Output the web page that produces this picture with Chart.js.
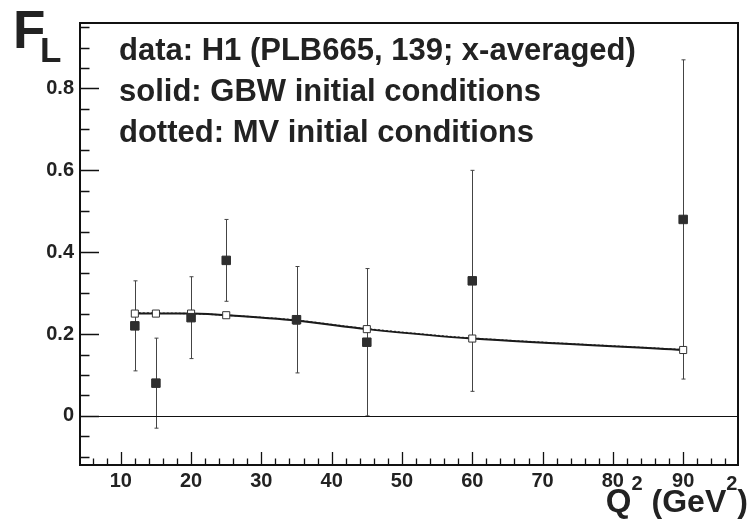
<!DOCTYPE html>
<html>
<head>
<meta charset="utf-8">
<script src="https://cdn.jsdelivr.net/npm/chart.js@4.4.1/dist/chart.umd.min.js"></script>
<style>
html,body{margin:0;padding:0;background:#fff;}
</style>
</head>
<body>
<canvas id="myChart" width="752" height="529"></canvas>
<script>
// H1 F_L data, x-averaged
var q2=[12,15,20,25,35,45,60,90];
var flData=[0.22,0.08,0.24,0.38,0.235,0.18,0.33,0.48];
var flErr=[0.11,0.11,0.10,0.10,0.13,0.18,0.27,0.39];
// model curves
var gbw=[0.250,0.250,0.250,0.246,0.233,0.212,0.189,0.161];
var mv=[0.252,0.251,0.250,0.246,0.234,0.213,0.190,0.162];
var xTicks=[10,20,30,40,50,60,70,80,90];
var yTicks=[0,0.2,0.4,0.6,0.8];
var textLines=['data: H1 (PLB665, 139; x-averaged)','solid: GBW initial conditions','dotted: MV initial conditions'];

var ink='#222';
var fnt='"Liberation Sans", Arial, Helvetica, sans-serif';

function pts(ys){
	var out=[];
	for(var i=0;i<q2.length;i++){ out.push({x:q2[i],y:ys[i]}); }
	return out;
}

var errorBars={
	id:'errorBars',
	beforeDatasetsDraw:function(chart){
		var ctx=chart.ctx, xs=chart.scales.x, ys=chart.scales.y;
		ctx.save();
		ctx.strokeStyle='#444';
		ctx.lineWidth=1;
		for(var i=0;i<q2.length;i++){
			var px=Math.round(xs.getPixelForValue(q2[i]))+0.5;
			var lo=Math.max(flData[i]-flErr[i],ys.min);
			var y1=ys.getPixelForValue(flData[i]+flErr[i]);
			var y2=ys.getPixelForValue(lo);
			ctx.beginPath();
			ctx.moveTo(px,y1);ctx.lineTo(px,y2);
			ctx.moveTo(px-2,y1);ctx.lineTo(px+2,y1);
			ctx.moveTo(px-2,y2);ctx.lineTo(px+2,y2);
			ctx.stroke();
		}
		ctx.restore();
	}
};

var frame={
	id:'frame',
	beforeDatasetsDraw:function(chart){
		var ctx=chart.ctx, a=chart.chartArea, ys=chart.scales.y;
		var y0=Math.round(ys.getPixelForValue(0))+0.5;
		ctx.save();
		ctx.strokeStyle='#111';
		ctx.lineWidth=1;
		ctx.beginPath();ctx.moveTo(a.left,y0);ctx.lineTo(a.right,y0);ctx.stroke();
		ctx.restore();
	},
	afterDraw:function(chart){
		var ctx=chart.ctx, a=chart.chartArea, xs=chart.scales.x, ys=chart.scales.y;
		ctx.save();
		ctx.strokeStyle='#111';
		ctx.lineWidth=2;
		ctx.strokeRect(a.left,a.top,a.right-a.left,a.bottom-a.top);
		ctx.lineWidth=1.3;
		ctx.beginPath();
		// x ticks, inside, bottom only
		for(var v=6;v<xs.max;v+=2){
			var px=Math.round(xs.getPixelForValue(v))+0.5;
			var len=(v%10===0)?13:6.5;
			ctx.moveTo(px,a.bottom);ctx.lineTo(px,a.bottom-len);
		}
		// y ticks, inside, left only
		for(var k=-2;k<=19;k++){
			var val=k*0.05;
			if(val<ys.min||val>ys.max) continue;
			var py=Math.round(ys.getPixelForValue(val))+0.5;
			var l2=(k%4===0)?19:9.5;
			ctx.moveTo(a.left,py);ctx.lineTo(a.left+l2,py);
		}
		ctx.stroke();

		ctx.fillStyle=ink;
		ctx.textBaseline='alphabetic';
		ctx.textAlign='left';
		// F_L
		ctx.font='bold 53px '+fnt;
		ctx.fillText('F',13,48);
		ctx.font='bold 35px '+fnt;
		ctx.fillText('L',40,62);
		// annotation lines
		ctx.font='bold 31px '+fnt;
		var base=[59.5,100.5,141.5];
		for(var i=0;i<textLines.length;i++){ ctx.fillText(textLines[i],119,base[i]); }
		// axis title Q^2 (GeV^2)
		var parts=[['Q',33,0],['2',20,-22],[' (GeV',32,0],['2',20,-22],[')',32,0]];
		var w=0;
		for(var j=0;j<parts.length;j++){ ctx.font='bold '+parts[j][1]+'px '+fnt; w+=ctx.measureText(parts[j][0]).width; }
		var x=748-w;
		for(var j=0;j<parts.length;j++){
			ctx.font='bold '+parts[j][1]+'px '+fnt;
			ctx.fillText(parts[j][0],x,512+parts[j][2]);
			x+=ctx.measureText(parts[j][0]).width;
		}
		ctx.restore();
	}
};

var ctx=document.getElementById('myChart').getContext('2d');
var chart=new Chart(ctx,{
	type:'scatter',
	data:{
		datasets:[{
			label:'H1',
			data:pts(flData),
			pointStyle:'rect',
			pointRadius:6,
			pointBackgroundColor:'#2e2e2e',
			pointBorderColor:'#2e2e2e',
			pointBorderWidth:1,
			showLine:false,
			order:0
		},{
			label:'GBW',
			data:pts(gbw),
			showLine:true,
			borderColor:'#1a1a1a',
			borderWidth:2,
			tension:0.3,
			pointStyle:'rect',
			pointRadius:5,
			pointBackgroundColor:'#fff',
			pointBorderColor:'#333',
			pointBorderWidth:1,
			order:1
		},{
			label:'MV',
			data:pts(mv),
			showLine:true,
			borderColor:'#555',
			borderWidth:1.5,
			borderDash:[2,2],
			tension:0.3,
			pointRadius:0,
			order:2
		}]
	},
	options:{
		responsive:false,
		animation:false,
		devicePixelRatio:1,
		layout:{padding:{top:23,right:14,left:0,bottom:0}},
		plugins:{legend:{display:false},tooltip:{enabled:false}},
		scales:{
			x:{
				type:'linear',
				min:4.2,max:97.8,
				afterBuildTicks:function(s){ s.ticks=xTicks.map(function(v){return {value:v};}); },
				afterFit:function(s){ s.height=64; },
				grid:{display:false,drawTicks:false},
				border:{display:false},
				ticks:{padding:4,color:ink,font:{family:fnt,size:20,weight:'bold'},maxRotation:0,autoSkip:false}
			},
			y:{
				type:'linear',
				min:-0.12,max:0.96,
				afterBuildTicks:function(s){ s.ticks=yTicks.map(function(v){return {value:v};}); },
				afterFit:function(s){ s.width=80; },
				grid:{display:false,drawTicks:false},
				border:{display:false},
				ticks:{padding:6,color:ink,font:{family:fnt,size:20,weight:'bold'},
					callback:function(v){ return v===0?'0':v.toFixed(1); }}
			}
		}
	},
	plugins:[errorBars,frame]
});
</script>
</body>
</html>
